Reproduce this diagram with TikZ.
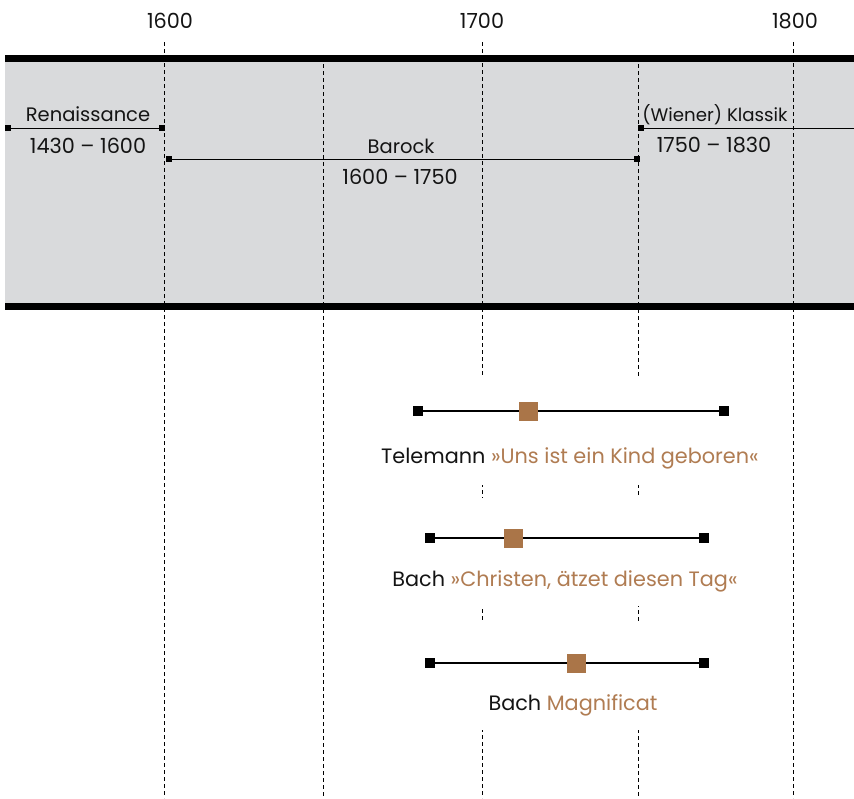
\documentclass[tikz,border=0pt]{standalone}
\usepackage{fontspec}
\setmainfont{Poppins}
\definecolor{bandgray}{RGB}{217,218,220}
\definecolor{accentbrown}{RGB}{170,117,72}
\definecolor{textbrown}{RGB}{176,124,82}
\begin{document}
\begin{tikzpicture}[x=1pt,y=-1pt,
  every node/.style={font=\fontsize{19.5}{22}\selectfont, text=black!92},
  gridline/.style={dash pattern=on 4pt off 3pt, line width=0.9pt},
  bandline/.style={line width=7pt},
  pmark/.style={fill=black, inner sep=0pt, minimum size=5.5pt, rectangle},
  emark/.style={fill=black, inner sep=0pt, minimum size=10pt, rectangle},
  bmark/.style={fill=accentbrown, inner sep=0pt, minimum size=19pt, rectangle},
  pline/.style={line width=1pt},
  eline/.style={line width=1.8pt},
  lbl/.style={anchor=base, inner sep=0pt},
  big/.style={font=\fontsize{20.8}{24}\selectfont},
  narrow/.style={font=\fontsize{18.2}{21}\selectfont},
  accent/.style={text=textbrown}]
\useasboundingbox (0,0) rectangle (854,798);
% band
\fill[bandgray] (5,57) rectangle (854,306);
% year labels
\node[lbl, big] (y1600) at (170,28) {1600};
\node[lbl, big] (y1700) at (482,28) {1700};
\node[lbl, big] (y1800) at (795,28) {1800};
% grid lines
\coordinate (g1600t) at (164,42);
\coordinate (g1600b) at (164,798);
\coordinate (g1650t) at (323,57);
\coordinate (g1650b) at (323,798);
\coordinate (g1700t) at (482,42);
\coordinate (g1700b) at (482,798);
\coordinate (g1750t) at (638,57);
\coordinate (g1750b) at (638,798);
\coordinate (g1800t) at (793,42);
\coordinate (g1800b) at (793,798);
\draw[gridline] (g1600t) -- (g1600b);
\draw[gridline] (g1650t) -- (g1650b);
\draw[gridline] (g1700t) -- (g1700b);
\draw[gridline] (g1750t) -- (g1750b);
\draw[gridline] (g1800t) -- (g1800b);
% white boxes behind entries
\fill[white] (380,376) rectangle (770,485);
\fill[white] (380,498) rectangle (770,606);
\fill[white] (380,622) rectangle (770,730);
% band borders
\coordinate (bt1) at (5,58);
\coordinate (bt2) at (854,58);
\coordinate (bb1) at (5,306);
\coordinate (bb2) at (854,306);
\draw[bandline] (bt1) -- (bt2);
\draw[bandline] (bb1) -- (bb2);
% Renaissance
\node[pmark] (r1) at (8,128) {};
\node[pmark] (r2) at (162,128) {};
\draw[pline] (r1) -- (r2);
\node[lbl] (rname) at (88,121) {Renaissance};
\node[lbl, big] (rdate) at (88,153) {1430 – 1600};
% Barock
\node[pmark] (b1) at (169,159) {};
\node[pmark] (b2) at (637,159) {};
\draw[pline] (b1) -- (b2);
\node[lbl] (bname) at (401,153) {Barock};
\node[lbl, big] (bdate) at (400,184) {1600 – 1750};
% Klassik
\node[pmark] (k1) at (641,128) {};
\coordinate (k2) at (854,128);
\draw[pline] (k1) -- (k2);
\node[lbl, narrow] (kname) at (715,121) {(Wiener) Klassik};
\node[lbl, big] (kdate) at (714,152) {1750 – 1830};
% Entry 1
\node[emark] (t1) at (418,411) {};
\node[emark] (t2) at (724,411) {};
\draw[eline] (t1) -- (t2);
\node[bmark] (tm) at (528,411) {};
\node[lbl, big] (tl) at (570,463) {Telemann \textcolor{textbrown}{»Uns ist ein Kind geboren«}};
% Entry 2
\node[emark] (c1) at (430,538) {};
\node[emark] (c2) at (704,538) {};
\draw[eline] (c1) -- (c2);
\node[bmark] (cm) at (513,538) {};
\node[lbl, big] (cl) at (565,586) {Bach \textcolor{textbrown}{»Christen, ätzet diesen Tag«}};
% Entry 3
\node[emark] (m1) at (430,663) {};
\node[emark] (m2) at (704,663) {};
\draw[eline] (m1) -- (m2);
\node[bmark] (mm) at (576,663) {};
\node[lbl, big] (ml) at (573,710) {Bach \textcolor{textbrown}{Magnificat}};
\end{tikzpicture}
\end{document}
